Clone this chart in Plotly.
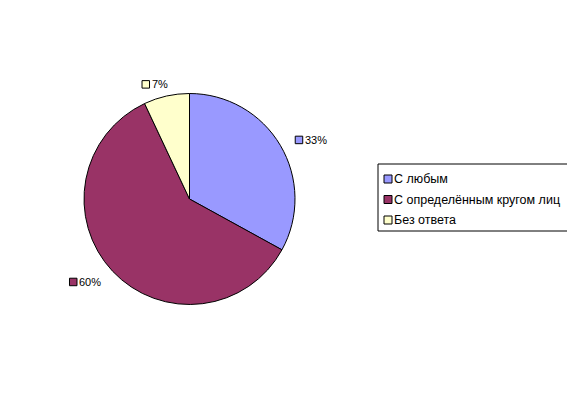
import math
import plotly.graph_objects as go

# ---- data ----
categories = ["С любым", "С определённым кругом лиц", "Без ответа"]
values = [33, 60, 7]
label_texts = ["33%", "60%", "7%"]
colors = ["#9999FF", "#993366", "#FFFFCC"]

# ---- layout geometry (pixels, in window coordinates) ----
OFF = 8  # page body margin in the browser
W, H = 575 - OFF, 399 - OFF
cx, cy, R = 189.5 - OFF, 199.0 - OFF, 105.5
FONT = "Liberation Sans, Arial, sans-serif"


def px(x):
    return x / W


def py(y):
    return 1 - y / H


fig = go.Figure()
fig.add_trace(go.Pie(
    labels=categories,
    values=values,
    sort=False,
    direction="clockwise",
    rotation=0,
    marker=dict(colors=colors, line=dict(color="black", width=1)),
    textinfo="none",
    hoverinfo="none",
    domain=dict(x=[px(cx - R), px(cx + R)], y=[py(cy + R), py(cy - R)]),
    showlegend=False,
))

shapes = []
annotations = []

# ---- data labels: square + percentage, placed along each slice's mid-angle ----
total = sum(values)
cum = 0.0
Dx, Dy = 127.0, 113.0
bw, bh = 30.0, 12.0
sq = 7.5
for v, txt, col in zip(values, label_texts, colors):
    mid = (cum + v / 2.0) / total * 2 * math.pi
    cum += v
    dx, dy = math.sin(mid), math.cos(mid)
    bx = cx + dx * (Dx + bw / 2) - 1.5
    by = cy - dy * (Dy + bh / 2) + 1.5
    left = bx - bw / 2
    shapes.append(dict(
        type="rect", xref="paper", yref="paper",
        x0=px(left), x1=px(left + sq),
        y0=py(by + sq / 2), y1=py(by - sq / 2),
        fillcolor=col, line=dict(color="black", width=1),
    ))
    annotations.append(dict(
        x=px(left + sq), y=py(by), xref="paper", yref="paper",
        text=txt, showarrow=False, xanchor="left", yanchor="middle",
        font=dict(family=FONT, size=11, color="black"),
    ))

# ---- legend box ----
LX0, LX1, LY0, LY1 = 378 - OFF, 569 - OFF, 164 - OFF, 231 - OFF
row_y0, row_step = 179 - OFF, 20.5
lsq = 8
shapes.append(dict(
    type="rect", xref="paper", yref="paper",
    x0=px(LX0), x1=px(LX1), y0=py(LY1), y1=py(LY0),
    fillcolor="white", line=dict(color="black", width=1), layer="below",
))
for i, (cat, col) in enumerate(zip(categories, colors)):
    ry = row_y0 + i * row_step
    shapes.append(dict(
        type="rect", xref="paper", yref="paper",
        x0=px(LX0 + 6), x1=px(LX0 + 6 + lsq),
        y0=py(ry + lsq / 2), y1=py(ry - lsq / 2),
        fillcolor=col, line=dict(color="black", width=1),
    ))
    annotations.append(dict(
        x=px(LX0 + 6 + lsq), y=py(ry), xref="paper", yref="paper",
        text=cat, showarrow=False, xanchor="left", yanchor="middle",
        font=dict(family=FONT, size=12.5, color="black"),
    ))

fig.update_layout(
    width=W, height=H,
    margin=dict(l=0, r=0, t=0, b=0),
    paper_bgcolor="white", plot_bgcolor="white",
    font=dict(family=FONT, size=12, color="black"),
    shapes=shapes,
    annotations=annotations,
    showlegend=False,
)

fig.write_html("out.html")
